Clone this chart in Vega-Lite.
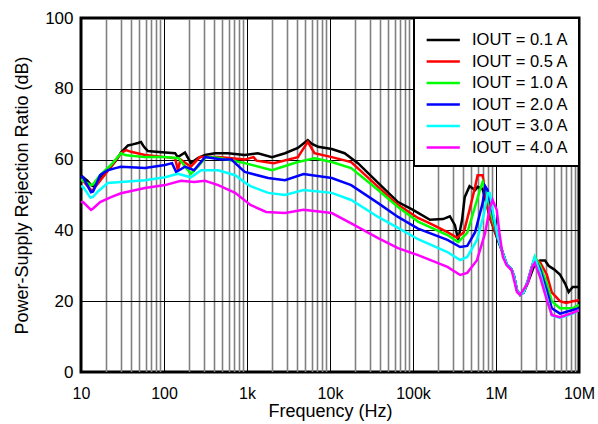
{
  "$schema": "https://vega.github.io/schema/vega-lite/v6.json",
  "width": 498,
  "height": 354,
  "autosize": {"type": "none"},
  "padding": {"left": 81, "top": 18, "right": 19, "bottom": 52},
  "background": "white",
  "config": {
    "font": "Liberation Sans",
    "view": {"stroke": "black", "strokeWidth": 3},
    "legend": {"strokeWidth": 2}
  },
  "data": {
    "values": [
      {"s":"0.1","f":10,"v":55.5},{"s":"0.1","f":10.6,"v":55},{"s":"0.1","f":12,"v":54},{"s":"0.1","f":13.2,"v":52.8},{"s":"0.1","f":14,"v":52.5},{"s":"0.1","f":16,"v":54},{"s":"0.1","f":18.4,"v":56},{"s":"0.1","f":23,"v":58},{"s":"0.1","f":27,"v":60},{"s":"0.1","f":30.3,"v":62},{"s":"0.1","f":36.8,"v":64},{"s":"0.1","f":42,"v":64.3},{"s":"0.1","f":48.6,"v":64.7},{"s":"0.1","f":52.8,"v":65},{"s":"0.1","f":56,"v":64},{"s":"0.1","f":59,"v":63.3},{"s":"0.1","f":64,"v":62.4},{"s":"0.1","f":80,"v":62.2},{"s":"0.1","f":103,"v":62},{"s":"0.1","f":136,"v":61.8},{"s":"0.1","f":147,"v":60.7},{"s":"0.1","f":179,"v":62},{"s":"0.1","f":211,"v":59},{"s":"0.1","f":256,"v":60.4},{"s":"0.1","f":312,"v":61.3},{"s":"0.1","f":412,"v":61.8},{"s":"0.1","f":590,"v":61.8},{"s":"0.1","f":940,"v":61.3},{"s":"0.1","f":1350,"v":61.8},{"s":"0.1","f":2000,"v":60.7},{"s":"0.1","f":2870,"v":61.8},{"s":"0.1","f":4100,"v":63.3},{"s":"0.1","f":5400,"v":65.5},{"s":"0.1","f":6000,"v":64.5},{"s":"0.1","f":7200,"v":63.6},{"s":"0.1","f":10500,"v":63},{"s":"0.1","f":15000,"v":61.8},{"s":"0.1","f":21700,"v":59},{"s":"0.1","f":38000,"v":53.4},{"s":"0.1","f":66000,"v":48},{"s":"0.1","f":100000,"v":45.8},{"s":"0.1","f":160000,"v":43},{"s":"0.1","f":230000,"v":43.2},{"s":"0.1","f":278000,"v":44},{"s":"0.1","f":320000,"v":41.5},{"s":"0.1","f":350000,"v":37.3},{"s":"0.1","f":390000,"v":43},{"s":"0.1","f":420000,"v":49.4},{"s":"0.1","f":480000,"v":52.5},{"s":"0.1","f":560000,"v":51.4},{"s":"0.1","f":600000,"v":52.3},{"s":"0.1","f":690000,"v":51.7},{"s":"0.1","f":760000,"v":48},{"s":"0.1","f":840000,"v":43.8},{"s":"0.1","f":1020000,"v":38.1},{"s":"0.1","f":1210000,"v":33.6},{"s":"0.1","f":1340000,"v":30.5},{"s":"0.1","f":1540000,"v":29},{"s":"0.1","f":1650000,"v":27},{"s":"0.1","f":1790000,"v":23},{"s":"0.1","f":1950000,"v":21.8},{"s":"0.1","f":2150000,"v":22.5},{"s":"0.1","f":2400000,"v":25},{"s":"0.1","f":2730000,"v":28.5},{"s":"0.1","f":2930000,"v":30.5},{"s":"0.1","f":3400000,"v":31.5},{"s":"0.1","f":3900000,"v":31.5},{"s":"0.1","f":4300000,"v":30},{"s":"0.1","f":5000000,"v":29},{"s":"0.1","f":5900000,"v":27.5},{"s":"0.1","f":6800000,"v":25},{"s":"0.1","f":7500000,"v":22.6},{"s":"0.1","f":8400000,"v":24},{"s":"0.1","f":10000000,"v":24},

      {"s":"0.5","f":10,"v":54.2},{"s":"0.5","f":10.6,"v":54},{"s":"0.5","f":13.2,"v":51.4},{"s":"0.5","f":14,"v":51.5},{"s":"0.5","f":17,"v":54},{"s":"0.5","f":23,"v":58},{"s":"0.5","f":30.3,"v":61.8},{"s":"0.5","f":35,"v":62.7},{"s":"0.5","f":40,"v":62.2},{"s":"0.5","f":59,"v":61.3},{"s":"0.5","f":103,"v":60.7},{"s":"0.5","f":136,"v":60.4},{"s":"0.5","f":147,"v":57},{"s":"0.5","f":158,"v":60},{"s":"0.5","f":211,"v":58},{"s":"0.5","f":270,"v":60.7},{"s":"0.5","f":450,"v":60.7},{"s":"0.5","f":940,"v":60},{"s":"0.5","f":1200,"v":60.7},{"s":"0.5","f":1300,"v":59.7},{"s":"0.5","f":2100,"v":59},{"s":"0.5","f":4100,"v":60.7},{"s":"0.5","f":5400,"v":65},{"s":"0.5","f":6500,"v":61.8},{"s":"0.5","f":10500,"v":60.7},{"s":"0.5","f":18000,"v":59.3},{"s":"0.5","f":38000,"v":52.3},{"s":"0.5","f":66000,"v":47.2},{"s":"0.5","f":115000,"v":43.5},{"s":"0.5","f":160000,"v":42},{"s":"0.5","f":260000,"v":39.5},{"s":"0.5","f":340000,"v":37.9},{"s":"0.5","f":410000,"v":39.5},{"s":"0.5","f":480000,"v":45.8},{"s":"0.5","f":560000,"v":52.3},{"s":"0.5","f":600000,"v":55.6},{"s":"0.5","f":690000,"v":55.6},{"s":"0.5","f":740000,"v":50.6},{"s":"0.5","f":840000,"v":43.8},{"s":"0.5","f":1000000,"v":39},{"s":"0.5","f":1210000,"v":33.5},{"s":"0.5","f":1340000,"v":30.5},{"s":"0.5","f":1540000,"v":29},{"s":"0.5","f":1650000,"v":27},{"s":"0.5","f":1790000,"v":23},{"s":"0.5","f":1950000,"v":21.8},{"s":"0.5","f":2150000,"v":22.5},{"s":"0.5","f":2400000,"v":25.5},{"s":"0.5","f":2730000,"v":30},{"s":"0.5","f":2930000,"v":32},{"s":"0.5","f":3400000,"v":31},{"s":"0.5","f":4100000,"v":27.5},{"s":"0.5","f":4700000,"v":22.5},{"s":"0.5","f":5900000,"v":20},{"s":"0.5","f":7000000,"v":19.5},{"s":"0.5","f":8400000,"v":20},{"s":"0.5","f":10000000,"v":20.3},

      {"s":"1.0","f":10,"v":54.5},{"s":"1.0","f":10.6,"v":54},{"s":"1.0","f":13.2,"v":52.8},{"s":"1.0","f":14,"v":53},{"s":"1.0","f":17,"v":55.6},{"s":"1.0","f":23,"v":58.5},{"s":"1.0","f":30.3,"v":61.8},{"s":"1.0","f":35,"v":61.2},{"s":"1.0","f":59,"v":60.7},{"s":"1.0","f":103,"v":60.7},{"s":"1.0","f":150,"v":60.4},{"s":"1.0","f":211,"v":56},{"s":"1.0","f":256,"v":58},{"s":"1.0","f":320,"v":60.7},{"s":"1.0","f":450,"v":60.5},{"s":"1.0","f":940,"v":59},{"s":"1.0","f":2000,"v":57},{"s":"1.0","f":4100,"v":59.3},{"s":"1.0","f":6500,"v":60.4},{"s":"1.0","f":10500,"v":59.3},{"s":"1.0","f":18000,"v":57.6},{"s":"1.0","f":38000,"v":51.4},{"s":"1.0","f":66000,"v":46.6},{"s":"1.0","f":115000,"v":42.5},{"s":"1.0","f":260000,"v":38.7},{"s":"1.0","f":350000,"v":36.7},{"s":"1.0","f":450000,"v":39.3},{"s":"1.0","f":530000,"v":44.9},{"s":"1.0","f":640000,"v":51.4},{"s":"1.0","f":690000,"v":53.7},{"s":"1.0","f":770000,"v":50.6},{"s":"1.0","f":910000,"v":43},{"s":"1.0","f":1050000,"v":38.5},{"s":"1.0","f":1210000,"v":33.5},{"s":"1.0","f":1340000,"v":30.5},{"s":"1.0","f":1540000,"v":29},{"s":"1.0","f":1650000,"v":27},{"s":"1.0","f":1790000,"v":23},{"s":"1.0","f":1950000,"v":21.8},{"s":"1.0","f":2150000,"v":22.5},{"s":"1.0","f":2400000,"v":25.5},{"s":"1.0","f":2730000,"v":30},{"s":"1.0","f":2930000,"v":32.5},{"s":"1.0","f":3400000,"v":30},{"s":"1.0","f":4100000,"v":25},{"s":"1.0","f":4700000,"v":20},{"s":"1.0","f":5900000,"v":18},{"s":"1.0","f":8400000,"v":18},{"s":"1.0","f":10000000,"v":19},

      {"s":"2.0","f":10,"v":55.3},{"s":"2.0","f":10.6,"v":55},{"s":"2.0","f":13.2,"v":50.8},{"s":"2.0","f":14,"v":51},{"s":"2.0","f":17,"v":55.6},{"s":"2.0","f":21,"v":57},{"s":"2.0","f":26,"v":57.6},{"s":"2.0","f":30.3,"v":58},{"s":"2.0","f":59,"v":57.6},{"s":"2.0","f":103,"v":58.5},{"s":"2.0","f":125,"v":59},{"s":"2.0","f":140,"v":56.5},{"s":"2.0","f":179,"v":58},{"s":"2.0","f":230,"v":57},{"s":"2.0","f":312,"v":60.7},{"s":"2.0","f":500,"v":60},{"s":"2.0","f":650,"v":60},{"s":"2.0","f":800,"v":58},{"s":"2.0","f":940,"v":56.5},{"s":"2.0","f":1800,"v":54.8},{"s":"2.0","f":2870,"v":54.2},{"s":"2.0","f":4800,"v":55.9},{"s":"2.0","f":10500,"v":54.8},{"s":"2.0","f":18000,"v":52.8},{"s":"2.0","f":38000,"v":47.7},{"s":"2.0","f":66000,"v":43.8},{"s":"2.0","f":115000,"v":40.5},{"s":"2.0","f":260000,"v":37.3},{"s":"2.0","f":370000,"v":35.3},{"s":"2.0","f":450000,"v":35.6},{"s":"2.0","f":560000,"v":39.5},{"s":"2.0","f":690000,"v":47.7},{"s":"2.0","f":740000,"v":52.5},{"s":"2.0","f":790000,"v":51.4},{"s":"2.0","f":910000,"v":44.9},{"s":"2.0","f":1050000,"v":38},{"s":"2.0","f":1210000,"v":33.5},{"s":"2.0","f":1340000,"v":30.5},{"s":"2.0","f":1540000,"v":29},{"s":"2.0","f":1650000,"v":27},{"s":"2.0","f":1790000,"v":23},{"s":"2.0","f":1950000,"v":21.8},{"s":"2.0","f":2150000,"v":22.5},{"s":"2.0","f":2400000,"v":25.5},{"s":"2.0","f":2730000,"v":30},{"s":"2.0","f":2930000,"v":32},{"s":"2.0","f":3400000,"v":29},{"s":"2.0","f":4100000,"v":23},{"s":"2.0","f":4700000,"v":18},{"s":"2.0","f":5900000,"v":16.5},{"s":"2.0","f":8400000,"v":17.5},{"s":"2.0","f":10000000,"v":18},

      {"s":"3.0","f":10,"v":52.5},{"s":"3.0","f":10.6,"v":52.3},{"s":"3.0","f":13,"v":49.2},{"s":"3.0","f":14,"v":49.5},{"s":"3.0","f":16,"v":51},{"s":"3.0","f":21,"v":53.4},{"s":"3.0","f":30.3,"v":53.7},{"s":"3.0","f":59,"v":54.2},{"s":"3.0","f":103,"v":55},{"s":"3.0","f":147,"v":56},{"s":"3.0","f":211,"v":55},{"s":"3.0","f":280,"v":57},{"s":"3.0","f":450,"v":57},{"s":"3.0","f":720,"v":55.6},{"s":"3.0","f":950,"v":53.5},{"s":"3.0","f":1100,"v":52.5},{"s":"3.0","f":1800,"v":50.6},{"s":"3.0","f":2870,"v":50},{"s":"3.0","f":4800,"v":51.4},{"s":"3.0","f":10500,"v":50.6},{"s":"3.0","f":18000,"v":48.6},{"s":"3.0","f":38000,"v":43.8},{"s":"3.0","f":66000,"v":40.7},{"s":"3.0","f":115000,"v":37.5},{"s":"3.0","f":260000,"v":33.9},{"s":"3.0","f":370000,"v":31.6},{"s":"3.0","f":450000,"v":32.5},{"s":"3.0","f":590000,"v":37.3},{"s":"3.0","f":720000,"v":44.9},{"s":"3.0","f":800000,"v":50.6},{"s":"3.0","f":840000,"v":50.6},{"s":"3.0","f":910000,"v":45.8},{"s":"3.0","f":1050000,"v":38},{"s":"3.0","f":1210000,"v":33.5},{"s":"3.0","f":1340000,"v":30.5},{"s":"3.0","f":1540000,"v":29},{"s":"3.0","f":1650000,"v":27},{"s":"3.0","f":1790000,"v":23},{"s":"3.0","f":1950000,"v":21.8},{"s":"3.0","f":2150000,"v":22.5},{"s":"3.0","f":2400000,"v":25.5},{"s":"3.0","f":2730000,"v":30},{"s":"3.0","f":2930000,"v":32.5},{"s":"3.0","f":3400000,"v":28},{"s":"3.0","f":4100000,"v":21},{"s":"3.0","f":4700000,"v":16},{"s":"3.0","f":5900000,"v":15.3},{"s":"3.0","f":8400000,"v":16.5},{"s":"3.0","f":10000000,"v":17.5},

      {"s":"4.0","f":10,"v":48},{"s":"4.0","f":10.6,"v":48},{"s":"4.0","f":13.2,"v":45.8},{"s":"4.0","f":14,"v":46.2},{"s":"4.0","f":17,"v":48},{"s":"4.0","f":23,"v":49.4},{"s":"4.0","f":30.3,"v":50.5},{"s":"4.0","f":59,"v":52},{"s":"4.0","f":103,"v":52.8},{"s":"4.0","f":160,"v":54},{"s":"4.0","f":230,"v":53.7},{"s":"4.0","f":312,"v":54},{"s":"4.0","f":450,"v":52.8},{"s":"4.0","f":720,"v":50.6},{"s":"4.0","f":1100,"v":47.2},{"s":"4.0","f":1700,"v":45.2},{"s":"4.0","f":2870,"v":44.9},{"s":"4.0","f":4800,"v":45.8},{"s":"4.0","f":10500,"v":44.9},{"s":"4.0","f":18000,"v":42},{"s":"4.0","f":38000,"v":37.8},{"s":"4.0","f":66000,"v":35},{"s":"4.0","f":115000,"v":33},{"s":"4.0","f":260000,"v":29.7},{"s":"4.0","f":370000,"v":27.4},{"s":"4.0","f":450000,"v":28},{"s":"4.0","f":590000,"v":31.6},{"s":"4.0","f":740000,"v":39.3},{"s":"4.0","f":840000,"v":46.3},{"s":"4.0","f":910000,"v":48.6},{"s":"4.0","f":1020000,"v":45.8},{"s":"4.0","f":1100000,"v":39.3},{"s":"4.0","f":1210000,"v":32.5},{"s":"4.0","f":1340000,"v":30.2},{"s":"4.0","f":1540000,"v":28.8},{"s":"4.0","f":1790000,"v":22.6},{"s":"4.0","f":1950000,"v":21.8},{"s":"4.0","f":2400000,"v":25},{"s":"4.0","f":2730000,"v":29.7},{"s":"4.0","f":2930000,"v":30.8},{"s":"4.0","f":3400000,"v":26.8},{"s":"4.0","f":4100000,"v":20.3},{"s":"4.0","f":4700000,"v":16.1},{"s":"4.0","f":5900000,"v":15.5},{"s":"4.0","f":8400000,"v":16.7},{"s":"4.0","f":10000000,"v":17.5}
    ]
  },
  "mark": {"type": "line", "strokeWidth": 2.5, "clip": true},
  "encoding": {
    "x": {
      "field": "f",
      "type": "quantitative",
      "title": "Frequency (Hz)",
      "scale": {"type": "log", "domain": [10, 10000000], "nice": false},
      "axis": {
        "values": [10,20,30,40,50,60,70,80,90,100,200,300,400,500,600,700,800,900,1000,2000,3000,4000,5000,6000,7000,8000,9000,10000,20000,30000,40000,50000,60000,70000,80000,90000,100000,200000,300000,400000,500000,600000,700000,800000,900000,1000000,2000000,3000000,4000000,5000000,6000000,7000000,8000000,9000000,10000000],
        "labelExpr": "datum.value == 10 ? '10' : datum.value == 100 ? '100' : datum.value == 1000 ? '1k' : datum.value == 10000 ? '10k' : datum.value == 100000 ? '100k' : datum.value == 1000000 ? '1M' : datum.value == 10000000 ? '10M' : ''",
        "grid": true,
        "gridColor": {"condition": {"test": "indexof([10,100,1000,10000,100000,1000000,10000000], datum.value) >= 0", "value": "black"}, "value": "#808080"},
        "gridWidth": {"condition": {"test": "indexof([10,100,1000,10000,100000,1000000,10000000], datum.value) >= 0", "value": 1}, "value": 1.6},
        "gridOpacity": 1,
        "domain": false,
        "ticks": false,
        "tickSize": 0,
        "labelPadding": 13,
        "labelFontSize": 16,
        "labelColor": "black",
        "labelOverlap": false,
        "labelFlush": false,
        "titleFontSize": 18,
        "titleFontWeight": "normal",
        "titleColor": "black",
        "titlePadding": 1
      }
    },
    "y": {
      "field": "v",
      "type": "quantitative",
      "title": "Power-Supply Rejection Ratio (dB)",
      "scale": {"domain": [0, 100], "nice": false},
      "axis": {
        "values": [0, 20, 40, 60, 80, 100],
        "grid": true,
        "gridColor": "black",
        "gridWidth": 1,
        "gridOpacity": 1,
        "domain": false,
        "ticks": false,
        "tickSize": 0,
        "labelPadding": 8,
        "labelFontSize": 17,
        "labelColor": "black",
        "titleFontSize": 18,
        "titleFontWeight": "normal",
        "titleColor": "black",
        "titlePadding": 13
      }
    },
    "color": {
      "field": "s",
      "type": "nominal",
      "scale": {
        "domain": ["0.1", "0.5", "1.0", "2.0", "3.0", "4.0"],
        "range": ["#000000", "#ff0000", "#00ff00", "#0000ff", "#00ffff", "#ff00ff"]
      },
      "legend": {
        "title": null,
        "orient": "top-right",
        "offset": 0,
        "labelExpr": "'IOUT = ' + datum.label + ' A'",
        "symbolType": "M-0.9,0H2.3",
        "symbolStrokeWidth": 2.5,
        "symbolSize": 430,
        "labelFontSize": 16.5,
        "labelColor": "black",
        "labelOffset": 24,
        "rowPadding": 0.5,
        "padding": 10,
        "strokeColor": "black",
        "fillColor": "white"
      }
    }
  }
}
